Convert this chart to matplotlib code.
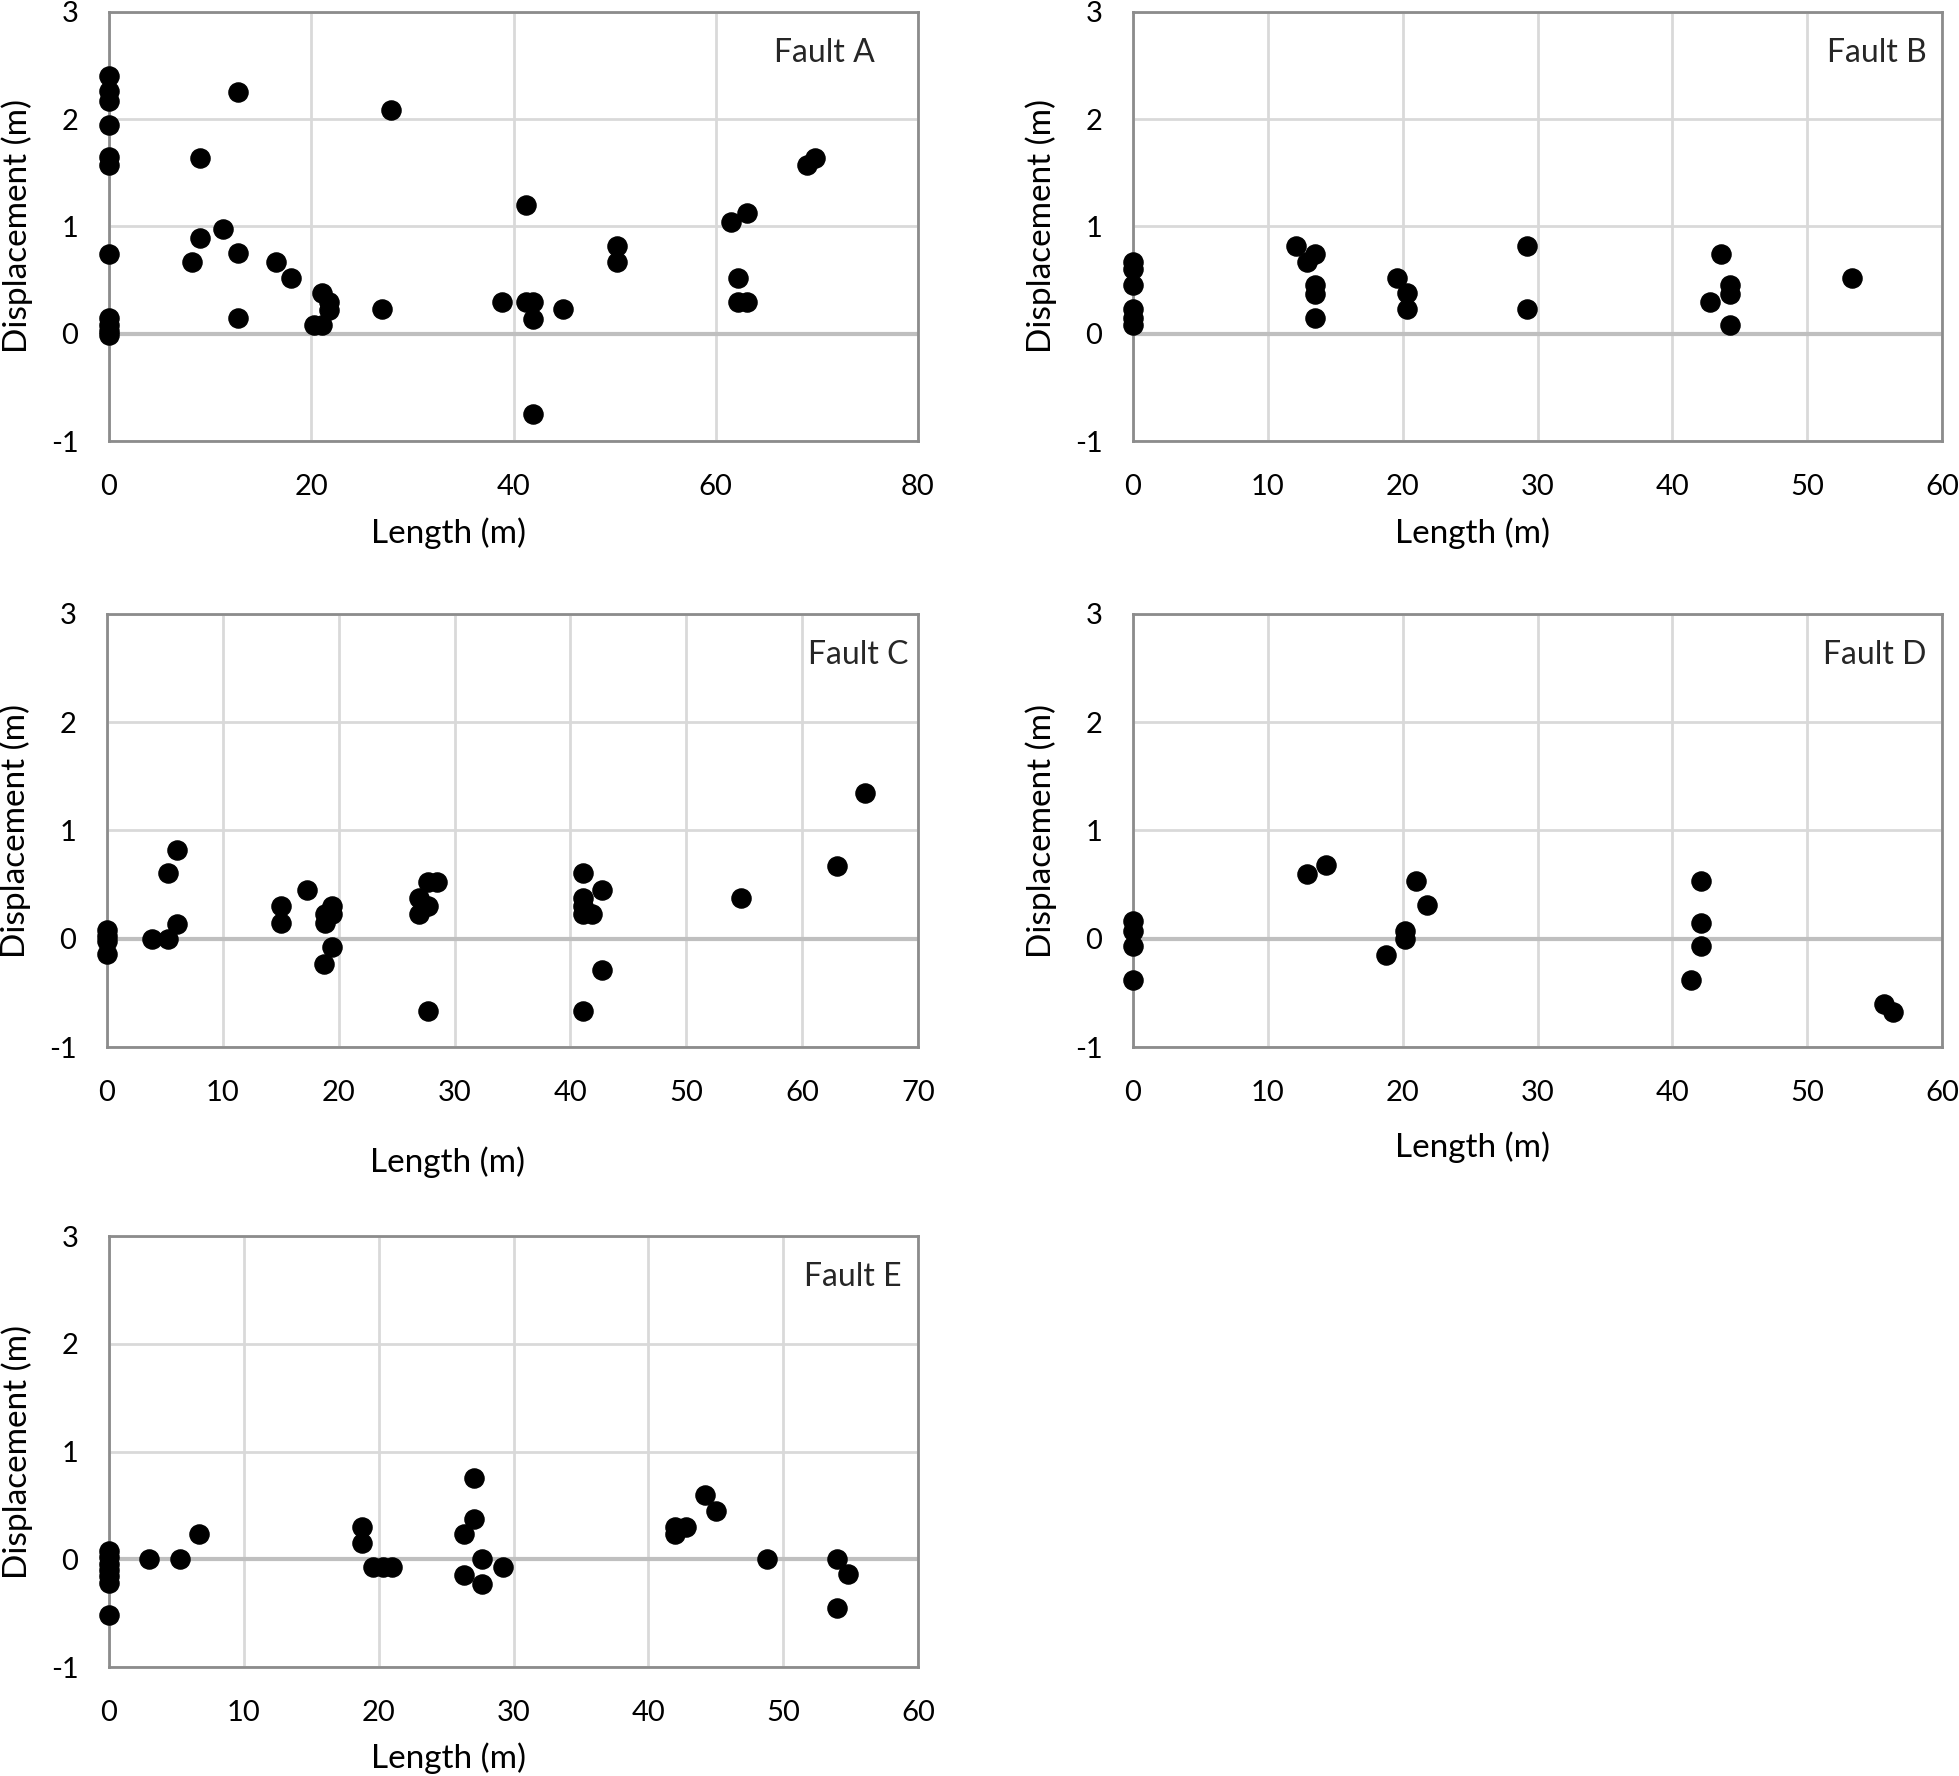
import numpy as np
import matplotlib
matplotlib.use("Agg")
import matplotlib.pyplot as plt

plt.rcParams['font.family'] = ['Lato', 'DejaVu Sans']
plt.rcParams['axes.unicode_minus'] = False

# Fault A
a_len = [0, 0, 0, 0, 0, 0, 0, 0, 0, 0, 0,
         12.8, 27.9, 9.0, 41.2, 61.5, 63.1, 69.0, 69.8, 11.3, 9.0, 8.2, 12.8,
         16.5, 18.0, 21.1, 21.8, 21.8, 20.3, 21.1, 12.8, 27.0, 38.9, 41.2,
         41.9, 41.9, 44.9, 41.9, 50.2, 50.2, 62.2, 62.2, 63.1]
a_disp = [2.40, 2.26, 2.17, 1.95, 1.65, 1.57, 0.74, 0.15, 0.08, 0.03, -0.01,
          2.25, 2.09, 1.64, 1.20, 1.04, 1.13, 1.57, 1.64, 0.98, 0.89, 0.67, 0.75,
          0.67, 0.52, 0.38, 0.30, 0.22, 0.08, 0.08, 0.15, 0.23, 0.30, 0.30,
          0.30, 0.14, 0.23, -0.75, 0.82, 0.67, 0.52, 0.30, 0.30]

# Fault B
b_len = [0, 0, 0, 0, 0, 0,
         12.1, 12.9, 13.5, 13.5, 13.5, 13.5, 19.6, 20.3, 20.3, 29.2, 29.2,
         42.8, 43.6, 44.3, 44.3, 44.3, 53.3]
b_disp = [0.67, 0.60, 0.45, 0.23, 0.15, 0.08,
          0.82, 0.67, 0.74, 0.45, 0.37, 0.15, 0.52, 0.38, 0.23, 0.82, 0.23,
          0.30, 0.74, 0.45, 0.37, 0.08, 0.52]

# Fault C
c_len = [0, 0, 0, 0, 3.9, 5.3, 5.3, 6.0, 6.0, 15.0, 15.0, 17.3, 18.8, 18.8,
         19.4, 19.4, 19.4, 18.7, 26.9, 26.9, 27.7, 27.7, 28.5, 27.7,
         41.1, 41.1, 41.1, 41.1, 41.9, 42.7, 42.7, 41.1, 54.7, 63.0, 65.4]
c_disp = [0.08, 0.03, -0.02, -0.14, 0.0, 0.0, 0.61, 0.82, 0.14, 0.30, 0.15, 0.45, 0.23, 0.15,
          0.30, 0.23, -0.08, -0.23, 0.38, 0.23, 0.52, 0.30, 0.52, -0.67,
          0.61, 0.38, 0.30, 0.23, 0.23, 0.45, -0.29, -0.67, 0.38, 0.67, 1.35]

# Fault D
d_len = [0, 0, 0, 0, 12.9, 14.3, 18.8, 20.2, 20.2, 21.0, 21.8,
         41.4, 42.1, 42.1, 42.1, 55.7, 56.4]
d_disp = [0.16, 0.07, -0.07, -0.38, 0.60, 0.68, -0.15, 0.07, 0.0, 0.53, 0.31,
          -0.38, 0.53, 0.15, -0.07, -0.60, -0.68]

# Fault E
e_len = [0, 0, 0, 0, 0, 0, 0, 3.0, 5.3, 6.7, 18.8, 18.8, 19.6, 20.3, 21.0,
         26.3, 26.3, 27.1, 27.1, 27.7, 27.7, 29.2, 42.0, 42.0, 42.8, 44.2, 45.0,
         48.8, 54.0, 54.8, 54.0]
e_disp = [0.08, 0.02, -0.04, -0.10, -0.16, -0.22, -0.52, 0.0, 0.0, 0.23, 0.30, 0.15, -0.07, -0.07, -0.07,
          0.23, -0.15, 0.75, 0.37, 0.0, -0.23, -0.07, 0.23, 0.30, 0.30, 0.60, 0.45,
          0.0, 0.0, -0.14, -0.45]

W, H = 1959, 1776
fig = plt.figure(figsize=(W / 100, H / 100), dpi=100)

# panel: data, x max, x step, box in pixels (left, top, right, bottom), name, name x, xlabel y
panels = [
    (a_len, a_disp, 80, 20, (109, 12, 918, 441), "Fault A", 0.946, -0.178),
    (b_len, b_disp, 60, 10, (1133, 12, 1942, 441), "Fault B", 0.981, -0.178),
    (c_len, c_disp, 70, 10, (107, 614, 918, 1047), "Fault C", 0.988, -0.23),
    (d_len, d_disp, 60, 10, (1133, 614, 1942, 1047), "Fault D", 0.981, -0.196),
    (e_len, e_disp, 60, 10, (109, 1236, 918, 1667), "Fault E", 0.98, -0.176),
]

for xs, ys, xmax, xstep, (l, t, r, b), name, lx, xly in panels:
    ax = fig.add_axes([l / W, 1 - b / H, (r - l) / W, (b - t) / H])
    ax.set_xlim(0, xmax)
    ax.set_ylim(-1, 3)
    ax.set_xticks(np.arange(0, xmax + 1, xstep))
    ax.set_yticks([-1, 0, 1, 2, 3])
    ax.grid(True, color='#d9d9d9', linewidth=2)
    ax.set_axisbelow(True)
    ax.axhline(0, color='#bfbfbf', linewidth=3, zorder=1)
    for s in ax.spines.values():
        s.set_color('#8c8c8c')
        s.set_linewidth(2)
    ax.tick_params(axis='x', length=0, labelsize=21, pad=24, colors='black')
    ax.tick_params(axis='y', length=0, labelsize=21, pad=22, colors='black')
    ax.scatter(xs, ys, s=190, color='black', zorder=3, clip_on=False)
    ax.text(lx, 0.905, name, transform=ax.transAxes, ha='right', va='center',
            fontsize=23, color='#262626')
    ax.set_xlabel('Length (m)', fontsize=24)
    ax.xaxis.set_label_coords(0.42, xly)
    ax.set_ylabel('Displacement (m)', fontsize=24)
    ax.yaxis.set_label_coords(-0.094, 0.5)

fig.savefig('out.png', dpi=100, facecolor='white')
